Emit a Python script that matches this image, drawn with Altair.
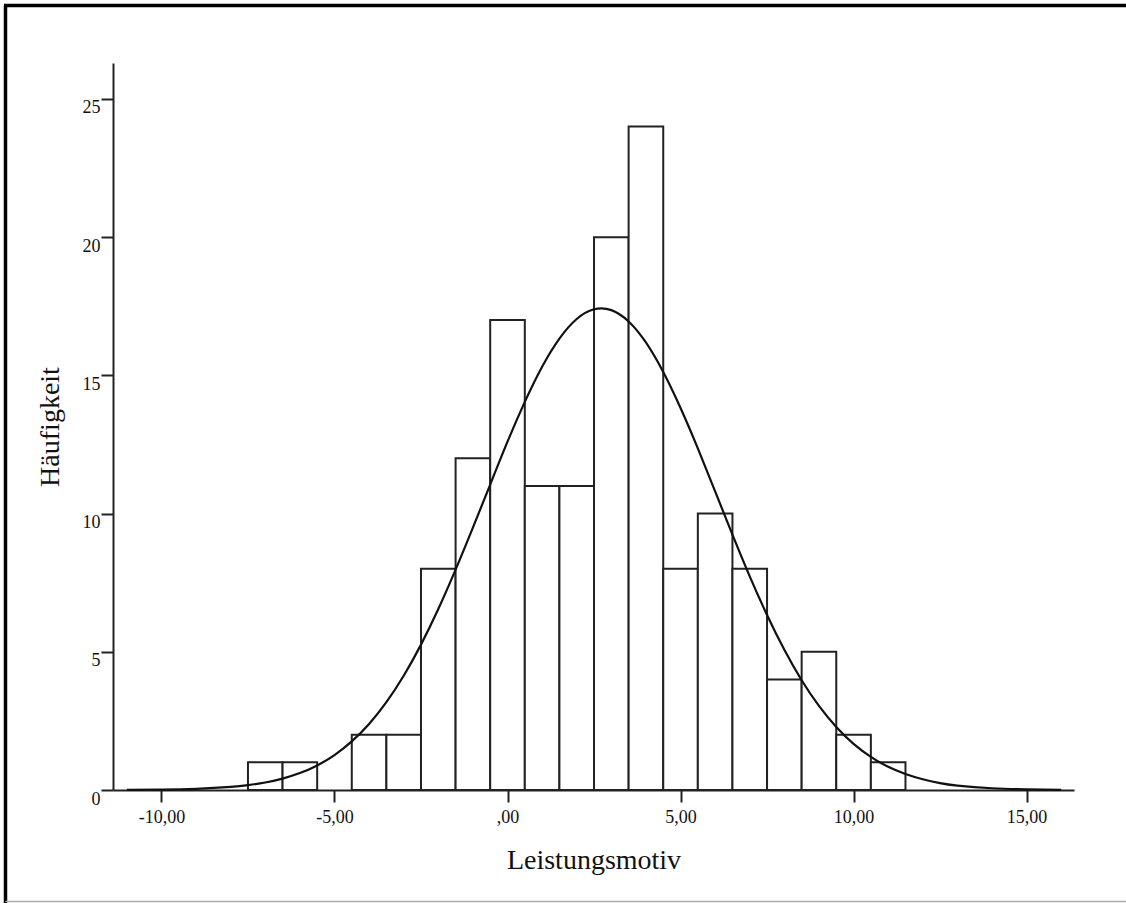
import altair as alt
import pandas as pd

# Histogram: bin centres (width 1) and frequencies
bin_centers = [-7, -6, -5, -4, -3, -2, -1, 0, 1, 2, 3, 4, 5, 6, 7, 8, 9, 10, 11]
counts = [1, 1, 0, 2, 2, 8, 12, 17, 11, 11, 20, 24, 8, 10, 8, 4, 5, 2, 1]

# Fitted normal curve
curve_x = [-11, -10, -9, -8, -7.5, -7, -6.5, -6, -5.5, -5, -4.5, -4, -3.5, -3, -2.5, -2,
           -1.5, -1, -0.5, 0, 0.5, 1, 1.5, 2, 2.5, 3, 3.5, 4, 4.5, 5, 5.5, 6, 6.5, 7,
           7.5, 8, 8.5, 9, 9.5, 10, 10.5, 11, 11.5, 12, 12.5, 13, 14, 15, 16]
curve_y = [0.004, 0.014, 0.041, 0.11, 0.175, 0.272, 0.413, 0.612, 0.889, 1.265, 1.758,
           2.389, 3.176, 4.132, 5.259, 6.545, 7.97, 9.49, 11.05, 12.6, 14.04, 15.31,
           16.33, 17.04, 17.39, 17.36, 16.95, 16.19, 15.12, 13.82, 12.36, 10.8, 9.24,
           7.73, 6.33, 5.07, 3.97, 3.04, 2.28, 1.67, 1.2, 0.84, 0.58, 0.39, 0.25, 0.16,
           0.063, 0.022, 0.007]

x_ticks = [-10, -5, 0, 5, 10, 15]
y_ticks = [0, 5, 10, 15, 20, 25]

FONT = "Liberation Serif"

hist = pd.DataFrame({"center": bin_centers, "count": counts})
hist["lo"] = hist["center"] - 0.5
hist["hi"] = hist["center"] + 0.5
hist = hist[hist["count"] > 0]

curve = pd.DataFrame({"x": curve_x, "y": curve_y})

xscale = alt.Scale(domain=[-11.4, 16.37], nice=False, zero=False)
yscale = alt.Scale(domain=[0, 26.3], nice=False)

xaxis = alt.Axis(
    title="Leistungsmotiv", values=x_ticks, grid=False,
    labelExpr="datum.value == 0 ? ',00' : (datum.value < 0 ? '-' : '') + abs(datum.value) + ',00'",
    labelFont=FONT, labelFontSize=18, labelColor="#111", labelPadding=6,
    tickSize=12, tickWidth=2, tickColor="#222",
    domainColor="#222", domainWidth=2,
    titleFont=FONT, titleFontSize=28, titleFontWeight="normal", titleColor="#111",
    titlePadding=20,
)
yaxis = alt.Axis(
    title="Häufigkeit", values=y_ticks, grid=False,
    labelFont=FONT, labelFontSize=18, labelColor="#111", labelPadding=1,
    labelBaseline="top",
    tickSize=12, tickWidth=2, tickColor="#222",
    domainColor="#222", domainWidth=2,
    titleFont=FONT, titleFontSize=28, titleFontWeight="normal", titleColor="#111",
    titlePadding=18,
)

bars = alt.Chart(hist).mark_rect(fill="white", stroke="#222", strokeWidth=2).encode(
    x=alt.X("lo:Q", scale=xscale, axis=xaxis),
    x2="hi:Q",
    y=alt.Y("count:Q", scale=yscale, axis=yaxis),
    y2=alt.datum(0),
)

line = alt.Chart(curve).mark_line(color="#111", strokeWidth=2.2, interpolate="natural").encode(
    x=alt.X("x:Q", scale=xscale),
    y=alt.Y("y:Q", scale=yscale),
)

frame_df = pd.DataFrame({"k": [0]})
left_rule = alt.Chart(frame_df).mark_rule(color="black", strokeWidth=3.5, clip=False).encode(
    x=alt.value(-107.5), y=alt.value(-57.5), y2=alt.value(850)
)
top_rule = alt.Chart(frame_df).mark_rule(color="black", strokeWidth=3.5, clip=False).encode(
    x=alt.value(-109), x2=alt.value(1020), y=alt.value(-57.5)
)
bottom_rule = alt.Chart(frame_df).mark_rule(color="#aaaaaa", strokeWidth=1.5, clip=False).encode(
    x=alt.value(-107.5), x2=alt.value(1020), y=alt.value(838.5)
)

chart = alt.layer(bars, line, left_rule, top_rule, bottom_rule).properties(
    width=961, height=727,
    padding={"left": 113, "top": 63, "right": 52, "bottom": 113},
    autosize=alt.AutoSizeParams(type="none"),
    background="white",
).configure_view(stroke=None)

chart.save("out.html", embed_options={"renderer": "svg", "actions": False})
